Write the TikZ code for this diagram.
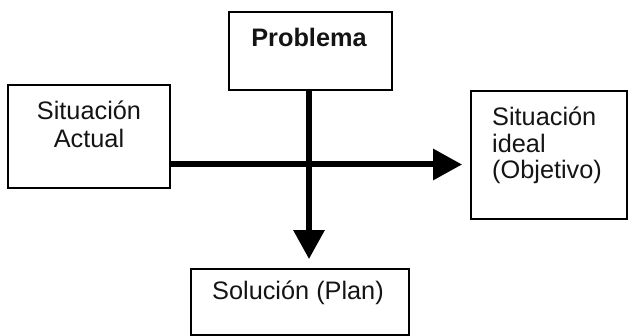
\documentclass[tikz,border=0pt]{standalone}
\usepackage{fontspec}
\setmainfont{Liberation Sans}
\usetikzlibrary{arrows.meta}
\begin{document}
\begin{tikzpicture}[x=1pt,y=-1pt,
  box/.style={draw=black,line width=1.8pt,rectangle,inner sep=0pt},
  lbl/.style={inner sep=0pt,text=black!92,font=\fontsize{25.3}{28}\selectfont},
  flow/.style={line width=6pt,draw=black,-{Triangle[length=29pt,width=30pt]}}]
  \useasboundingbox (0,0) rectangle (628,336);
  % boxes
  \node[box,minimum width=163pt,minimum height=78pt]  (prob)  at (310.5,51)  {};
  \node[box,minimum width=162pt,minimum height=103pt] (act)   at (89,136.5)  {};
  \node[box,minimum width=156pt,minimum height=128pt] (ideal) at (549,155)   {};
  \node[box,minimum width=218pt,minimum height=66pt]  (sol)   at (300,302)   {};
  % labels (base anchor = baseline of the last line)
  \node[lbl,anchor=base,font=\fontsize{25.3}{28}\selectfont\bfseries] (tprob) at (309,47) {Problema};
  \node[lbl,anchor=base,align=center] (tact) at (89,148) {Situación\\Actual};
  \node[lbl,anchor=base west,align=left,font=\fontsize{25.3}{26.3}\selectfont] (tideal) at (492,178.5) {Situación\\ideal\\(Objetivo)};
  \node[lbl,anchor=base] (tsol) at (298,299) {Solución (Plan)};
  % connectors
  \draw[flow,shorten >=8pt] ([yshift=-28pt]act.east) -- ([yshift=-9.5pt]ideal.west);
  \draw[flow,shorten >=9pt] (prob.south -| tprob) -- (tprob |- sol.north);
\end{tikzpicture}
\end{document}
